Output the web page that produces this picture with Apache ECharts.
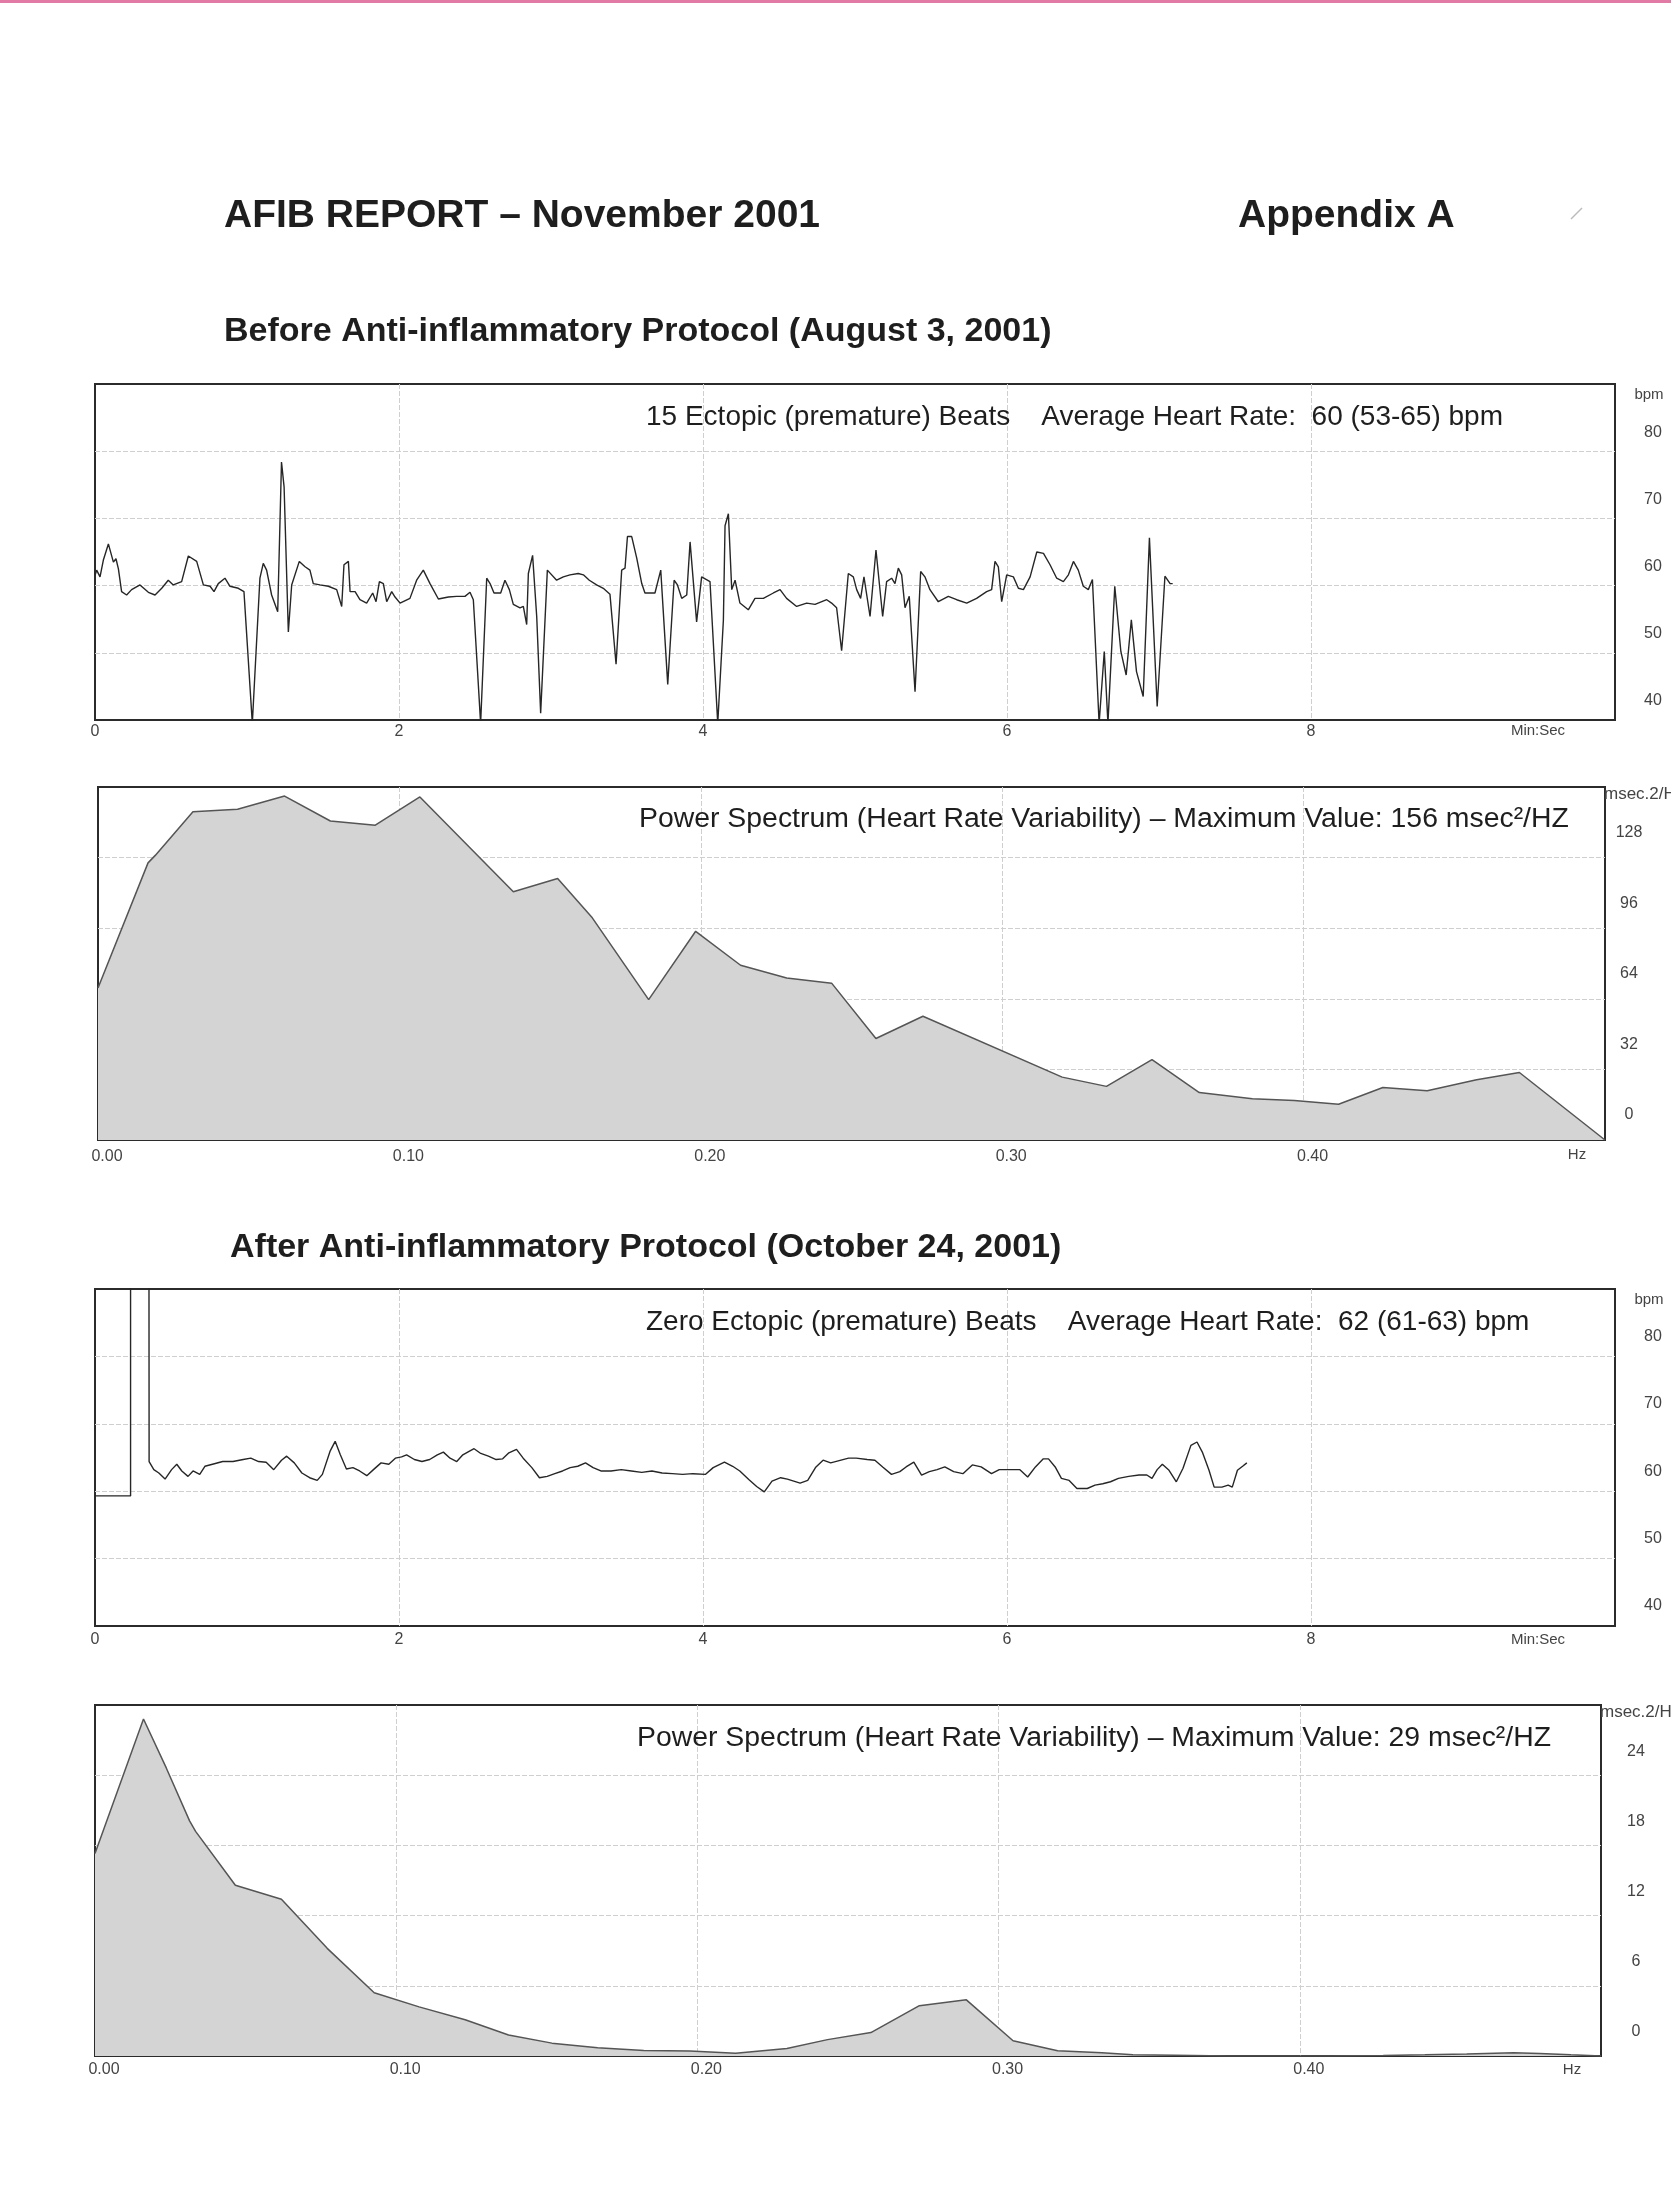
<!DOCTYPE html>
<html>
<head>
<meta charset="utf-8">
<script src="https://cdn.jsdelivr.net/npm/echarts@6/dist/echarts.min.js"></script>
<style>
html,body{margin:0;padding:0;background:#fff;}
#c{width:1671px;height:2197px;}
</style>
</head>
<body>
<div id="c"></div>
<script>
// ---------- DATA ----------
const hrTicksX = [0, 2, 4, 6, 8];           // Min:Sec ticks
const hrTicksY = [40, 50, 60, 70, 80];      // bpm ticks
const psTicksX = [0.00, 0.10, 0.20, 0.30, 0.40];
const ps1TicksY = [0, 32, 64, 96, 128];
const ps2TicksY = [0, 6, 12, 18, 24];

// Before: heart rate trace (minutes, bpm)
const hrBeforeMin = [
  0,0.011,0.033,0.055,0.088,0.121,0.138,0.154,0.175,0.208,
  0.241,0.296,0.351,0.395,0.439,0.482,0.515,0.57,0.614,0.669,
  0.713,0.757,0.783,0.811,0.855,0.888,0.943,0.98,1.035,1.085,
  1.107,1.129,1.162,1.202,1.227,1.244,1.272,1.294,1.344,1.382,
  1.414,1.436,1.48,1.535,1.59,1.623,1.638,1.667,1.678,1.711,
  1.743,1.787,1.827,1.849,1.871,1.897,1.919,1.952,1.974,2.007,
  2.072,2.116,2.16,2.204,2.259,2.325,2.379,2.434,2.467,2.489,
  2.537,2.577,2.599,2.625,2.669,2.697,2.726,2.752,2.796,2.818,
  2.84,2.851,2.879,2.906,2.932,2.976,3.037,3.081,3.125,3.179,
  3.213,3.252,3.3,3.344,3.388,3.428,3.465,3.487,3.503,3.531,
  3.564,3.597,3.618,3.684,3.722,3.768,3.81,3.832,3.86,3.893,
  3.915,3.958,3.991,4.046,4.097,4.134,4.145,4.167,4.189,4.211,
  4.243,4.298,4.342,4.397,4.463,4.507,4.55,4.616,4.682,4.737,
  4.814,4.846,4.879,4.912,4.956,4.989,5.011,5.037,5.059,5.099,
  5.138,5.182,5.208,5.241,5.263,5.285,5.307,5.329,5.357,5.395,
  5.432,5.46,5.493,5.548,5.614,5.669,5.735,5.8,5.866,5.899,
  5.921,5.943,5.965,5.998,6.042,6.075,6.108,6.152,6.196,6.24,
  6.283,6.327,6.371,6.404,6.437,6.469,6.502,6.535,6.562,6.606,
  6.64,6.664,6.709,6.749,6.784,6.818,6.852,6.896,6.937,6.988,
  7.039,7.073,7.09];
const hrBeforeBpm = [
  61.5,62.3,61.3,63.8,66.2,63.5,64.0,62.5,59.1,58.6,
  59.4,60.1,59.0,58.6,59.6,60.8,60.1,60.6,64.4,63.6,
  60.1,59.9,59.1,60.3,61.1,59.9,59.6,59.1,39.5,61.1,
  63.3,62.3,58.6,56.1,78.4,74.7,53.1,60.1,63.6,62.8,
  62.3,60.3,60.1,59.9,59.4,56.9,63.1,63.6,59.1,59.1,
  57.9,57.4,58.9,57.6,60.6,60.3,57.6,59.1,58.3,57.4,
  58.1,60.8,62.3,60.3,58.0,58.3,58.4,58.4,59.0,57.9,
  39.5,61.1,60.3,58.9,58.9,60.8,59.4,57.2,56.7,56.9,
  54.2,61.8,64.5,55.4,41.0,62.3,60.8,61.3,61.6,61.8,
  61.6,60.8,60.1,59.6,58.7,48.3,62.3,62.6,67.3,67.3,
  64.1,60.3,58.9,58.9,62.3,45.3,60.8,60.1,58.1,58.6,
  66.5,54.6,61.3,60.6,39.5,54.8,68.9,70.7,59.4,60.8,
  57.4,56.4,58.1,58.1,58.9,59.4,58.1,56.9,57.4,57.2,
  57.9,57.4,56.7,50.3,61.8,61.3,59.4,58.1,61.3,55.4,
  65.3,55.4,60.6,61.1,60.3,62.6,61.6,56.7,58.4,44.2,
  62.1,61.3,59.4,57.6,58.4,57.9,57.4,58.1,59.1,59.4,
  63.6,62.8,57.6,61.6,61.3,59.6,59.4,61.3,65.0,64.8,
  63.1,61.1,60.6,61.6,63.6,62.3,59.9,59.4,60.9,39.5,
  50.2,39.5,59.9,50.2,46.7,54.9,47.2,43.5,67.1,42,
  61.4,60.3,60.3];

// Before: power spectrum (Hz, msec^2/Hz)
const psBeforeHz = [0.0,0.0166,0.019,0.0315,0.0463,0.0619,0.0771,0.092,0.1068,0.1378,0.1525,0.164,0.1827,0.1983,0.2132,0.2285,0.2434,0.2581,0.2737,0.3199,0.3346,0.3497,0.3654,0.383,0.3969,0.4116,0.4263,0.441,0.4574,0.4716,0.5];
const psBeforeVal = [68.9,125.6,129,148.8,149.9,155.9,144.6,142.7,155.5,112.5,118.5,100.7,63.6,94.6,79.2,73.4,71.1,46.0,56.1,28.5,24.3,36.4,21.5,18.7,17.9,16.2,23.8,22.3,27.3,30.6,0];

// After: heart rate trace (minutes, bpm) — start is off-scale high
const hrAfterMin = [0,0.234,0.234,0.355,0.356,0.387,0.42,0.461,0.504,0.538,0.571,0.612,0.645,0.689,0.723,0.773,0.84,0.908,0.975,1.025,1.076,1.126,1.176,1.227,1.261,1.311,1.361,1.412,1.462,1.496,1.546,1.58,1.614,1.654,1.697,1.741,1.788,1.832,1.882,1.933,1.976,2.017,2.05,2.101,2.151,2.202,2.252,2.292,2.336,2.38,2.42,2.461,2.494,2.538,2.588,2.639,2.682,2.723,2.773,2.817,2.874,2.924,2.975,3.025,3.076,3.126,3.176,3.227,3.277,3.328,3.395,3.462,3.529,3.597,3.664,3.731,3.798,3.866,3.933,4.017,4.067,4.141,4.195,4.242,4.303,4.353,4.403,4.454,4.511,4.555,4.639,4.689,4.74,4.79,4.84,4.908,4.958,5.008,5.08,5.131,5.182,5.24,5.295,5.336,5.387,5.438,5.489,5.54,5.591,5.649,5.71,5.772,5.83,5.898,5.949,6.017,6.085,6.136,6.187,6.239,6.273,6.317,6.358,6.409,6.46,6.528,6.579,6.63,6.681,6.733,6.801,6.869,6.92,6.954,6.988,7.022,7.066,7.114,7.158,7.21,7.25,7.285,7.329,7.363,7.414,7.455,7.482,7.516,7.55,7.578];
const hrAfterBpm = [59.3,59.3,95,95,64.4,63.2,62.7,61.8,63.2,64,63,62.2,63,62.5,63.7,64,64.4,64.4,64.7,64.9,64.4,64.3,63.2,64.6,65.2,64.2,62.7,62,61.6,62.5,65.9,67.4,65.4,63.3,63.5,63,62.3,63.2,64.2,64,64.9,65.1,65.4,64.7,64.4,64.7,65.4,65.8,64.9,64.4,65.4,65.9,66.3,65.6,65.2,64.7,64.8,65.7,66.2,64.9,63.5,62,62.2,62.6,63,63.5,63.7,64.2,63.5,63,63,63.2,63,62.8,63,62.7,62.6,62.5,62.6,62.5,63.5,64.3,63.7,63,61.7,60.7,59.9,61.5,62,61.8,61.2,61.6,63.5,64.6,64.2,64.6,64.9,64.9,64.7,64.6,63.6,62.5,62.9,63.6,64.3,62.4,62.9,63.2,63.6,62.9,62.6,63.9,63.6,62.6,63.2,63.2,63.2,62.1,63.6,64.8,64.8,63.6,61.9,61.6,60.4,60.4,60.9,61.1,61.4,61.9,62.2,62.4,62.4,61.9,63.2,64,63.1,61.4,63.4,66.8,67.3,65.8,63.1,60.6,60.6,60.9,60.6,63.1,63.7,64.2];

// After: power spectrum (Hz, msec^2/Hz)
const psAfterHz = [0,0.0161,0.0237,0.0314,0.0334,0.0466,0.0619,0.0771,0.0927,0.1076,0.1229,0.1373,0.1517,0.1669,0.1822,0.1975,0.2127,0.2297,0.2432,0.2576,0.2737,0.2893,0.3048,0.3196,0.3343,0.3446,0.3585,0.3758,0.3931,0.4104,0.4277,0.4415,0.4554,0.471,0.4796,0.49,0.5];
const psAfterVal = [17.3,28.8,24.6,20.1,19.2,14.6,13.4,9.2,5.4,4.2,3.1,1.8,1.1,0.7,0.48,0.42,0.23,0.65,1.4,2.0,4.3,4.8,1.3,0.45,0.28,0.1,0.06,0,0,0,0.05,0.1,0.17,0.28,0.22,0.1,0];

// ---------- BUILD ----------
const zip = (a, b) => a.slice(0, Math.min(a.length, b.length)).map((x, i) => [x, b[i]]);
const SANS = "'Liberation Sans', Arial, Helvetica, sans-serif";
const NARROW = "'Liberation Sans Narrow', 'Arial Narrow', 'Liberation Sans', Arial, sans-serif";
const GRID_LINE = {show: true, showMinLine: false, showMaxLine: false, lineStyle: {color: '#cfcfcf', width: 1, type: [5, 2]}};
const BORDER = '#2b2b2b';

const grids = [
  {left: 95, top: 384, width: 1520, height: 336},
  {left: 98, top: 787, width: 1507, height: 353},
  {left: 95, top: 1289, width: 1520, height: 337},
  {left: 95, top: 1705, width: 1506, height: 351}
].map(g => Object.assign({show: true, borderColor: BORDER, borderWidth: 2, backgroundColor: 'transparent', containLabel: false}, g));

function hrX(i, margin) {
  return {gridIndex: i, type: 'value', min: 0, max: 10, interval: 2,
    axisLine: {show: false}, axisTick: {show: false}, splitLine: GRID_LINE,
    axisLabel: {margin: margin, fontSize: 16, fontFamily: NARROW, color: '#444',
      formatter: v => hrTicksX.indexOf(v) >= 0 ? String(v) : ''}};
}
function psX(i, margin) {
  return {gridIndex: i, type: 'value', min: 0, max: 0.5, interval: 0.1,
    axisLine: {show: false}, axisTick: {show: false}, splitLine: GRID_LINE,
    axisLabel: {margin: margin, fontSize: 16, fontFamily: NARROW, color: '#444', padding: [0, 0, 0, 18],
      formatter: v => { const r = Math.round(v * 100) / 100; return psTicksX.some(t => Math.abs(t - r) < 1e-6) ? r.toFixed(2) : ''; }}};
}
function yAx(i, min, max, interval, ticks, margin, lift) {
  return {gridIndex: i, type: 'value', position: 'right', min: min, max: max, interval: interval,
    axisLine: {show: false}, axisTick: {show: false}, splitLine: GRID_LINE,
    axisLabel: {margin: margin, align: 'center', verticalAlign: 'bottom', padding: [0, 0, lift, 0],
      fontSize: 16, fontFamily: NARROW, color: '#444',
      formatter: v => ticks.indexOf(Math.round(v)) >= 0 ? String(Math.round(v)) : ''}};
}

const lineHR = (i, data) => ({type: 'line', xAxisIndex: i, yAxisIndex: i, data: data, showSymbol: false, symbol: 'none',
  clip: true, animation: false, lineStyle: {color: '#262626', width: 1.4}});
const areaPS = (i, data) => ({type: 'line', xAxisIndex: i, yAxisIndex: i, data: data, showSymbol: false, symbol: 'none',
  clip: true, animation: false, lineStyle: {color: '#555', width: 1.5}, areaStyle: {color: '#d4d4d4', opacity: 1}});

function txt(x, y, text, size, opts) {
  return Object.assign({type: 'text', x: x, y: y, z: 100,
    style: Object.assign({text: text, fontSize: size, fontFamily: SANS, fill: '#1e1e1e',
      textVerticalAlign: 'middle', verticalAlign: 'middle', textAlign: 'left', align: 'left'}, opts || {})});
}
const small = {fontFamily: NARROW, fill: '#444'};
const smallC = Object.assign({textAlign: 'center', align: 'center'}, small);

const option = {
  backgroundColor: '#ffffff',
  animation: false,
  grid: grids,
  xAxis: [hrX(0, 4), psX(1, 9), hrX(2, 6), psX(3, 6)],
  yAxis: [
    yAx(0, 40, 90, 10, hrTicksY, 38, 11),
    yAx(1, 0, 160, 32, ps1TicksY, 24, 17),
    yAx(2, 40, 90, 10, hrTicksY, 38, 12),
    yAx(3, 0, 30, 6, ps2TicksY, 35, 16)
  ],
  series: [
    lineHR(0, zip(hrBeforeMin, hrBeforeBpm)),
    areaPS(1, zip(psBeforeHz, psBeforeVal)),
    lineHR(2, zip(hrAfterMin, hrAfterBpm)),
    areaPS(3, zip(psAfterHz, psAfterVal))
  ],
  graphic: [
    {type: 'rect', shape: {x: 0, y: 0, width: 1671, height: 3}, style: {fill: '#e27aa6'}},
    {type: 'line', shape: {x1: 1571, y1: 219, x2: 1582, y2: 208}, style: {stroke: '#bbbbbb', lineWidth: 1.5}},
    txt(224, 216, 'AFIB REPORT – November 2001', 39, {fontWeight: 'bold'}),
    txt(1238, 216, 'Appendix A', 39, {fontWeight: 'bold'}),
    txt(224, 332, 'Before Anti-inflammatory Protocol (August 3, 2001)', 34, {fontWeight: 'bold'}),
    txt(230, 1248, 'After Anti-inflammatory Protocol (October 24, 2001)', 34, {fontWeight: 'bold'}),
    txt(646, 417, '15 Ectopic (premature) Beats    Average Heart Rate:  60 (53-65) bpm', 28),
    txt(639, 819, 'Power Spectrum (Heart Rate Variability) – Maximum Value: 156 msec²/HZ', 28.4),
    txt(646, 1322, 'Zero Ectopic (premature) Beats    Average Heart Rate:  62 (61-63) bpm', 28),
    txt(637, 1738, 'Power Spectrum (Heart Rate Variability) – Maximum Value: 29 msec²/HZ', 28.4),
    txt(1649, 395, 'bpm', 15, smallC),
    txt(1538, 731, 'Min:Sec', 15, smallC),
    txt(1604, 794, 'msec.2/Hz', 17, small),
    txt(1577, 1155, 'Hz', 15, smallC),
    txt(1649, 1300, 'bpm', 15, smallC),
    txt(1538, 1640, 'Min:Sec', 15, smallC),
    txt(1600, 1712, 'msec.2/Hz', 17, small),
    txt(1572, 2070, 'Hz', 15, smallC)
  ]
};

const chart = echarts.init(document.getElementById('c'), null, {renderer: 'canvas', width: 1671, height: 2197});
chart.setOption(option);
</script>
</body>
</html>
